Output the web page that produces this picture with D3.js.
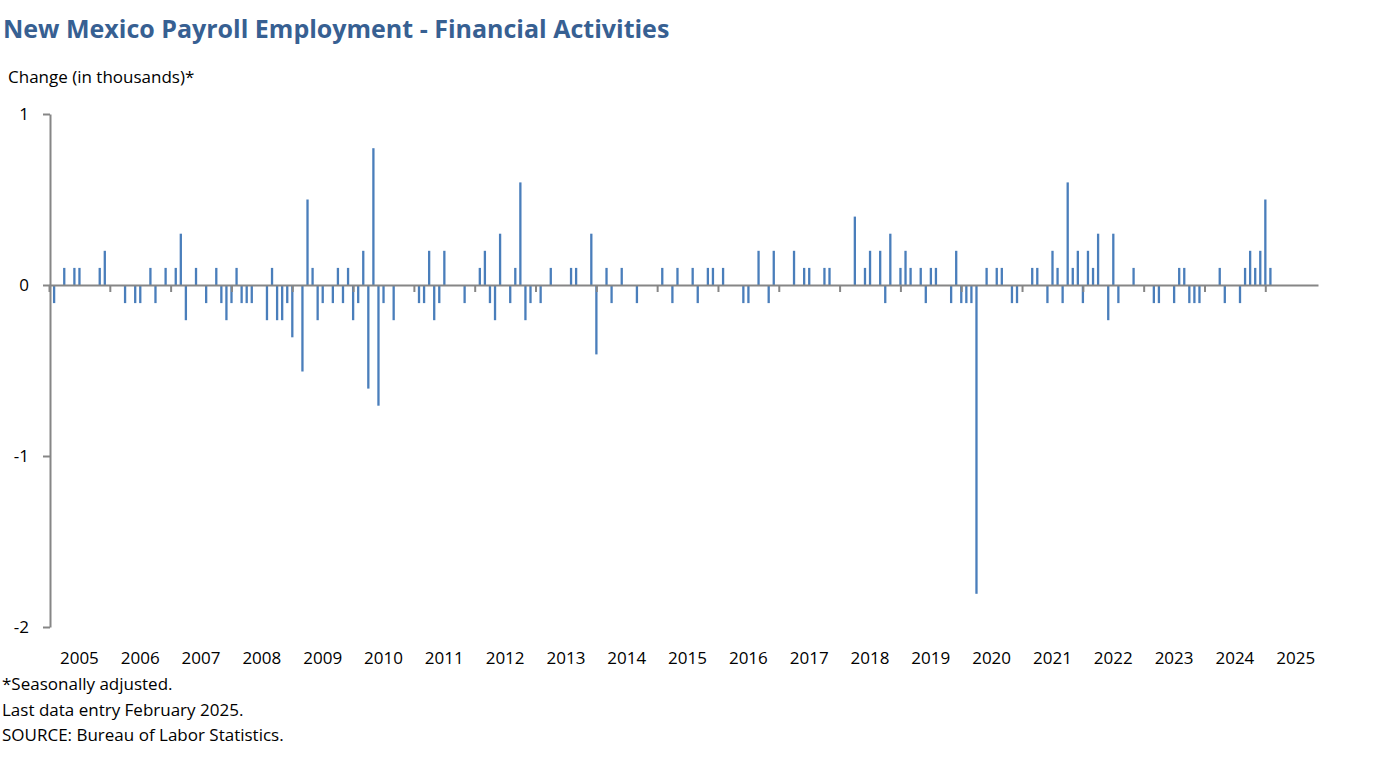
<!DOCTYPE html>
<html><head><meta charset="utf-8">
<script src="https://cdn.jsdelivr.net/npm/d3@7"></script>
<style>body{margin:0;background:#fff}text{font-family:"Open Sans","Noto Sans",sans-serif}</style>
</head><body><svg id="c" width="1388" height="768"></svg>
<script>
const years = [2005,2006,2007,2008,2009,2010,2011,2012,2013,2014,2015,2016,2017,2018,2019,2020,2021,2022,2023,2024,2025];
const yTicks = [-2,-1,0,1];
const v2005=[0,-0.1,0,0.1,0,0.1,0.1,0,0,0,0.1,0.2];
const v2006=[0,0,0,-0.1,0,-0.1,-0.1,0,0.1,-0.1,0,0.1];
const v2007=[0,0.1,0.3,-0.2,0,0.1,0,-0.1,0,0.1,-0.1,-0.2];
const v2008=[-0.1,0.1,-0.1,-0.1,-0.1,0,0,-0.2,0.1,-0.2,-0.2,-0.1];
const v2009=[-0.3,0,-0.5,0.5,0.1,-0.2,-0.1,0,-0.1,0.1,-0.1,0.1];
const v2010=[-0.2,-0.1,0.2,-0.6,0.8,-0.7,-0.1,0,-0.2,0,0,0];
const v2011=[0,-0.1,-0.1,0.2,-0.2,-0.1,0.2,0,0,0,-0.1,0];
const v2012=[0,0.1,0.2,-0.1,-0.2,0.3,0,-0.1,0.1,0.6,-0.2,-0.1];
const v2013=[0,-0.1,0,0.1,0,0,0,0.1,0.1,0,0,0.3];
const v2014=[-0.4,0,0.1,-0.1,0,0.1,0,0,-0.1,0,0,0];
const v2015=[0,0.1,0,-0.1,0.1,0,0,0.1,-0.1,0,0.1,0.1];
const v2016=[0,0.1,0,0,0,-0.1,-0.1,0,0.2,0,-0.1,0.2];
const v2017=[0,0,0,0.2,0,0.1,0.1,0,0,0.1,0.1,0];
const v2018=[0,0,0,0.4,0,0.1,0.2,0,0.2,-0.1,0.3,0];
const v2019=[0.1,0.2,0.1,0,0.1,-0.1,0.1,0.1,0,0,-0.1,0.2];
const v2020=[-0.1,-0.1,-0.1,-1.8,0,0.1,0,0.1,0.1,0,-0.1,-0.1];
const v2021=[0,0,0.1,0.1,0,-0.1,0.2,0.1,-0.1,0.6,0.1,0.2];
const v2022=[-0.1,0.2,0.1,0.3,0,-0.2,0.3,-0.1,0,0,0.1,0];
const v2023=[0,0,-0.1,-0.1,0,0,-0.1,0.1,0.1,-0.1,-0.1,-0.1];
const v2024=[0,0,0,0.1,-0.1,0,0,-0.1,0.1,0.2,0.1,0.2];
const v2025=[0.5,0.1];
const values=[].concat(v2005,v2006,v2007,v2008,v2009,v2010,v2011,v2012,v2013,v2014,v2015,v2016,v2017,v2018,v2019,v2020,v2021,v2022,v2023,v2024,v2025);

const svg=d3.select("#c");
const x=d3.scaleLinear().domain([0,250.4]).range([49,1318]);
const y=d3.scaleLinear().domain([-2,1]).range([627,114]);
const grey="#868686";

svg.append("text").attr("x",3).attr("y",38).attr("font-size",25).attr("font-weight","bold").attr("fill","#376092")
  .text("New Mexico Payroll Employment - Financial Activities");
svg.append("text").attr("x",8).attr("y",83).attr("font-size",17).attr("fill","#000").text("Change (in thousands)*");

svg.append("g").selectAll("rect").data(values.map((v,i)=>({v,i})).filter(d=>d.v!==0)).join("rect")
  .attr("x",d=>x(d.i)-1.1).attr("width",2.3)
  .attr("y",d=>Math.min(y(d.v),y(0)+1)).attr("height",d=>Math.abs(y(d.v)-y(0)))
  .attr("fill","#4a7ebb");

const xa=svg.append("g").attr("transform",`translate(0,${y(0)})`)
  .call(d3.axisBottom(x).tickValues(years.map((_,k)=>k*12)).tickSize(7).tickSizeOuter(0).tickFormat(""));
xa.select(".domain").attr("stroke",grey).attr("stroke-width",2);
xa.selectAll(".tick line").attr("stroke",grey).attr("stroke-width",2);
svg.append("g").selectAll("text").data(years).join("text")
  .attr("x",(d,k)=>x(k*12+6)).attr("y",664).attr("text-anchor","middle").attr("font-size",17).text(d=>d);

const ya=svg.append("g").attr("transform","translate(50,0)")
  .call(d3.axisLeft(y).tickValues(yTicks).tickSize(7).tickSizeOuter(0).tickFormat(d=>String(d).replace("\u2212","-")));
ya.select(".domain").attr("stroke",grey).attr("stroke-width",2);
ya.selectAll(".tick line").attr("stroke",grey).attr("stroke-width",2);
ya.selectAll(".tick text").attr("x",-21).attr("font-size",17).attr("fill","#000");

const notes=["*Seasonally adjusted.","Last data entry February 2025.","SOURCE: Bureau of Labor Statistics."];
svg.append("g").selectAll("text").data(notes).join("text").attr("x",2).attr("y",(d,i)=>690+i*25.5).attr("font-size",17).text(d=>d);
</script></body></html>
